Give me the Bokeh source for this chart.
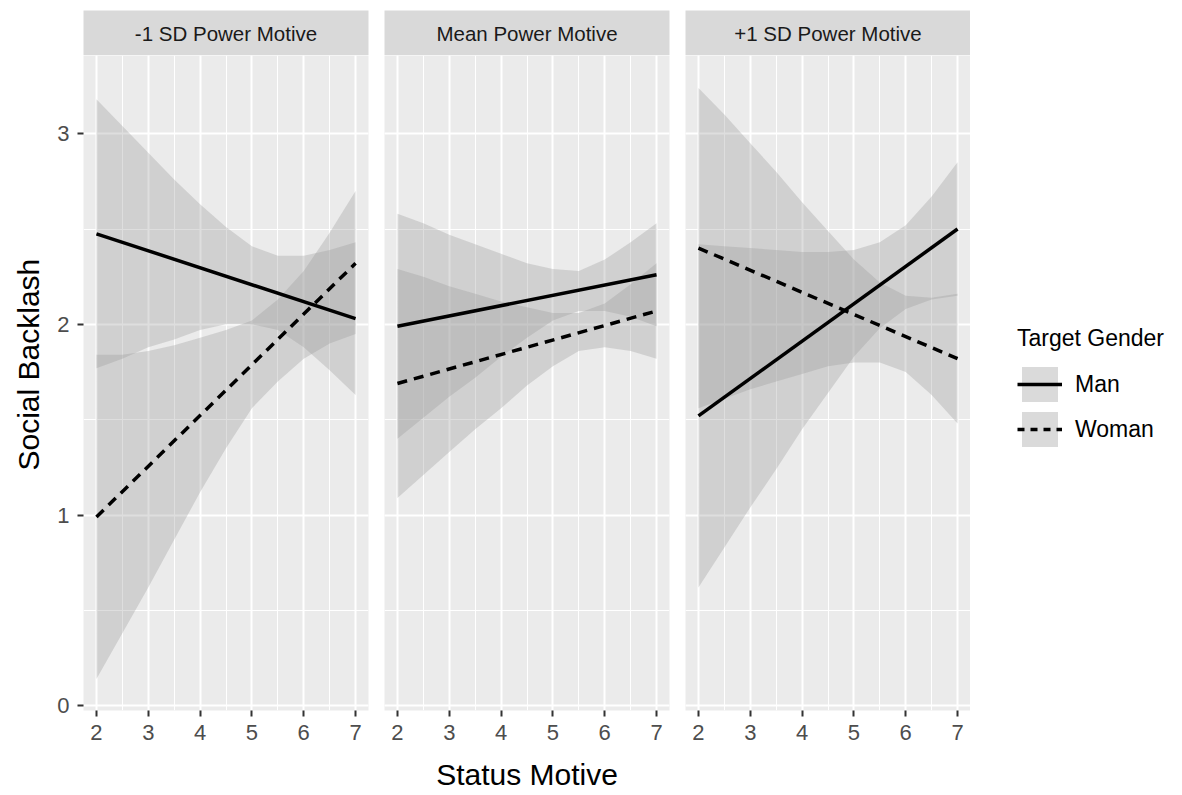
from bokeh.plotting import figure
from bokeh.layouts import column, row
from bokeh.models import Range1d, SingleIntervalTicker, Legend, LegendItem, Title
from bokeh.embed import file_html
from bokeh.resources import INLINE
from bokeh.core.properties import value

FONT = "Liberation Sans"

PANELS = ["-1 SD Power Motive", "Mean Power Motive", "+1 SD Power Motive"]
GENDERS = ["Man", "Woman"]
LINE_X = [2, 7]
BAND_X = [2, 2.5, 3, 3.5, 4, 4.5, 5, 5.5, 6, 6.5, 7]
X_RANGE = (1.75, 7.25)
Y_RANGE = (-0.025, 3.41)

# -1 SD Power Motive
LOW_MAN_FIT = [2.475, 2.03]
LOW_MAN_LOWER = [1.77, 1.82, 1.88, 1.92, 1.97, 2.00, 2.00, 1.97, 1.88, 1.76, 1.63]
LOW_MAN_UPPER = [3.18, 3.04, 2.90, 2.76, 2.63, 2.51, 2.41, 2.36, 2.36, 2.39, 2.43]
LOW_WOMAN_FIT = [0.99, 2.32]
LOW_WOMAN_LOWER = [0.14, 0.38, 0.62, 0.87, 1.12, 1.35, 1.56, 1.70, 1.82, 1.90, 1.95]
LOW_WOMAN_UPPER = [1.84, 1.84, 1.86, 1.89, 1.93, 1.97, 2.02, 2.13, 2.28, 2.48, 2.70]

# Mean Power Motive
MID_MAN_FIT = [1.99, 2.26]
MID_MAN_LOWER = [1.40, 1.51, 1.62, 1.72, 1.83, 1.93, 2.02, 2.07, 2.07, 2.04, 1.99]
MID_MAN_UPPER = [2.58, 2.53, 2.47, 2.42, 2.37, 2.32, 2.29, 2.28, 2.34, 2.43, 2.53]
MID_WOMAN_FIT = [1.69, 2.07]
MID_WOMAN_LOWER = [1.09, 1.21, 1.33, 1.45, 1.56, 1.68, 1.78, 1.86, 1.88, 1.86, 1.82]
MID_WOMAN_UPPER = [2.29, 2.25, 2.20, 2.16, 2.12, 2.09, 2.06, 2.06, 2.11, 2.21, 2.32]

# +1 SD Power Motive
HIGH_MAN_FIT = [1.52, 2.50]
HIGH_MAN_LOWER = [0.62, 0.83, 1.04, 1.24, 1.45, 1.64, 1.83, 1.98, 2.08, 2.13, 2.15]
HIGH_MAN_UPPER = [2.42, 2.41, 2.40, 2.39, 2.38, 2.38, 2.39, 2.43, 2.52, 2.67, 2.85]
HIGH_WOMAN_FIT = [2.40, 1.82]
HIGH_WOMAN_LOWER = [1.56, 1.61, 1.66, 1.70, 1.74, 1.78, 1.80, 1.80, 1.75, 1.63, 1.48]
HIGH_WOMAN_UPPER = [3.24, 3.10, 2.95, 2.80, 2.64, 2.49, 2.34, 2.22, 2.15, 2.14, 2.16]

DATA = [
    (LOW_MAN_FIT, LOW_MAN_LOWER, LOW_MAN_UPPER, LOW_WOMAN_FIT, LOW_WOMAN_LOWER, LOW_WOMAN_UPPER),
    (MID_MAN_FIT, MID_MAN_LOWER, MID_MAN_UPPER, MID_WOMAN_FIT, MID_WOMAN_LOWER, MID_WOMAN_UPPER),
    (HIGH_MAN_FIT, HIGH_MAN_LOWER, HIGH_MAN_UPPER, HIGH_WOMAN_FIT, HIGH_WOMAN_LOWER, HIGH_WOMAN_UPPER),
]

FRAME_W = [286, 285, 285]
BORDER_L = [82, 8, 8]
BORDER_R = [8, 8, 0]
STRIP_TOP = 10
STRIP_H = 45
PANEL_H = 739
BORDER_B = 84
LEGEND_W = 209

BAND_COLOR = "#999999"
BAND_ALPHA = 0.32
DASH = "10 7"

columns = []
for i, title in enumerate(PANELS):
    w = BORDER_L[i] + FRAME_W[i] + BORDER_R[i]
    p = figure(width=w, height=PANEL_H,
               x_range=Range1d(*X_RANGE), y_range=Range1d(*Y_RANGE),
               output_backend="svg", toolbar_location=None,
               min_border_left=BORDER_L[i], min_border_right=BORDER_R[i],
               min_border_top=0, min_border_bottom=BORDER_B)
    p.background_fill_color = "#ebebeb"
    p.border_fill_color = "white"
    p.outline_line_color = None

    xt = SingleIntervalTicker(interval=1, num_minor_ticks=2)
    yt = SingleIntervalTicker(interval=1, num_minor_ticks=2)
    p.xaxis.ticker = xt
    p.yaxis.ticker = yt
    p.xgrid.ticker = xt
    p.ygrid.ticker = yt
    p.grid.grid_line_color = "white"
    p.grid.grid_line_width = 2
    p.grid.minor_grid_line_color = "white"
    p.grid.minor_grid_line_width = 1

    for ax in p.axis:
        ax.axis_line_color = None
        ax.major_tick_line_color = "#333333"
        ax.major_tick_line_width = 2
        ax.major_tick_out = 6
        ax.major_tick_in = 0
        ax.minor_tick_line_color = None
        ax.major_label_text_font = FONT
        ax.major_label_text_font_size = "22px"
        ax.major_label_text_color = "#4d4d4d"
        ax.major_label_standoff = 8
        ax.axis_label_text_font = FONT
        ax.axis_label_text_font_style = "normal"
        ax.axis_label_text_color = "black"
        ax.axis_label_text_font_size = "30px"

    if i == 0:
        ytitle = Title(text="Social Backlash", align="left", offset=240, standoff=19,
                       text_font=FONT, text_font_size="30px", text_font_style="normal",
                       text_color="black")
        p.add_layout(ytitle, "left")
    else:
        p.yaxis.visible = False
    if i == 1:
        p.xaxis.axis_label = "Status Motive"
        p.xaxis.axis_label_standoff = 15

    man_fit, man_lo, man_hi, wom_fit, wom_lo, wom_hi = DATA[i]
    p.varea(x=BAND_X, y1=man_lo, y2=man_hi, fill_color=BAND_COLOR, fill_alpha=BAND_ALPHA)
    p.varea(x=BAND_X, y1=wom_lo, y2=wom_hi, fill_color=BAND_COLOR, fill_alpha=BAND_ALPHA)
    p.line(x=LINE_X, y=man_fit, line_color="black", line_width=3.5)
    p.line(x=LINE_X, y=wom_fit, line_color="black", line_width=3.5, line_dash=DASH)

    s = figure(width=w, height=STRIP_TOP + STRIP_H, x_range=p.x_range, y_range=Range1d(0, 1),
               output_backend="svg", toolbar_location=None,
               x_axis_location=None, y_axis_location=None,
               min_border_left=BORDER_L[i], min_border_right=BORDER_R[i],
               min_border_top=STRIP_TOP, min_border_bottom=0)
    s.background_fill_color = "#d9d9d9"
    s.border_fill_color = "white"
    s.outline_line_color = None
    s.grid.visible = False
    s.text(x=[sum(X_RANGE) / 2], y=[0.5], text=[title], text_align="center",
           text_baseline="middle", text_font=value(FONT), text_font_size="20.5px",
           text_color="#1a1a1a")

    columns.append(column(s, p, spacing=0))

# legend panel: its own renderers carry the +1 SD series but lie outside its view,
# so only the legend keys show
lg = figure(width=LEGEND_W, height=STRIP_TOP + STRIP_H + PANEL_H,
            x_range=Range1d(-1, 0), y_range=Range1d(-1, 0),
            output_backend="svg", toolbar_location=None,
            x_axis_location=None, y_axis_location=None,
            min_border_left=0, min_border_right=0, min_border_top=0, min_border_bottom=0)
lg.background_fill_color = "white"
lg.border_fill_color = "white"
lg.outline_line_color = None
lg.grid.visible = False
mb = lg.varea(x=BAND_X, y1=HIGH_MAN_LOWER, y2=HIGH_MAN_UPPER, fill_color=BAND_COLOR, fill_alpha=0.36)
wb = lg.varea(x=BAND_X, y1=HIGH_WOMAN_LOWER, y2=HIGH_WOMAN_UPPER, fill_color=BAND_COLOR, fill_alpha=0.36)
ml = lg.line(x=LINE_X, y=HIGH_MAN_FIT, line_color="black", line_width=3.5)
wl = lg.line(x=LINE_X, y=HIGH_WOMAN_FIT, line_color="black", line_width=3.5, line_dash="7 6")
legend = Legend(items=[LegendItem(label=GENDERS[0], renderers=[mb, ml]),
                       LegendItem(label=GENDERS[1], renderers=[wb, wl])],
                title="Target Gender", location=(47, 343))
legend.title_text_font = FONT
legend.title_text_font_size = "23px"
legend.title_text_font_style = "normal"
legend.title_text_color = "black"
legend.title_standoff = 10
legend.label_text_font = FONT
legend.label_text_font_size = "23px"
legend.label_text_color = "black"
legend.glyph_width = 45
legend.glyph_height = 44
legend.label_height = 44
legend.label_standoff = 13
legend.spacing = 1
legend.padding = 0
legend.margin = 0
legend.border_line_color = None
legend.background_fill_alpha = 0
lg.add_layout(legend, "center")

layout = row(*columns, lg, spacing=0)
open("out.html", "w").write(file_html(layout, INLINE))
